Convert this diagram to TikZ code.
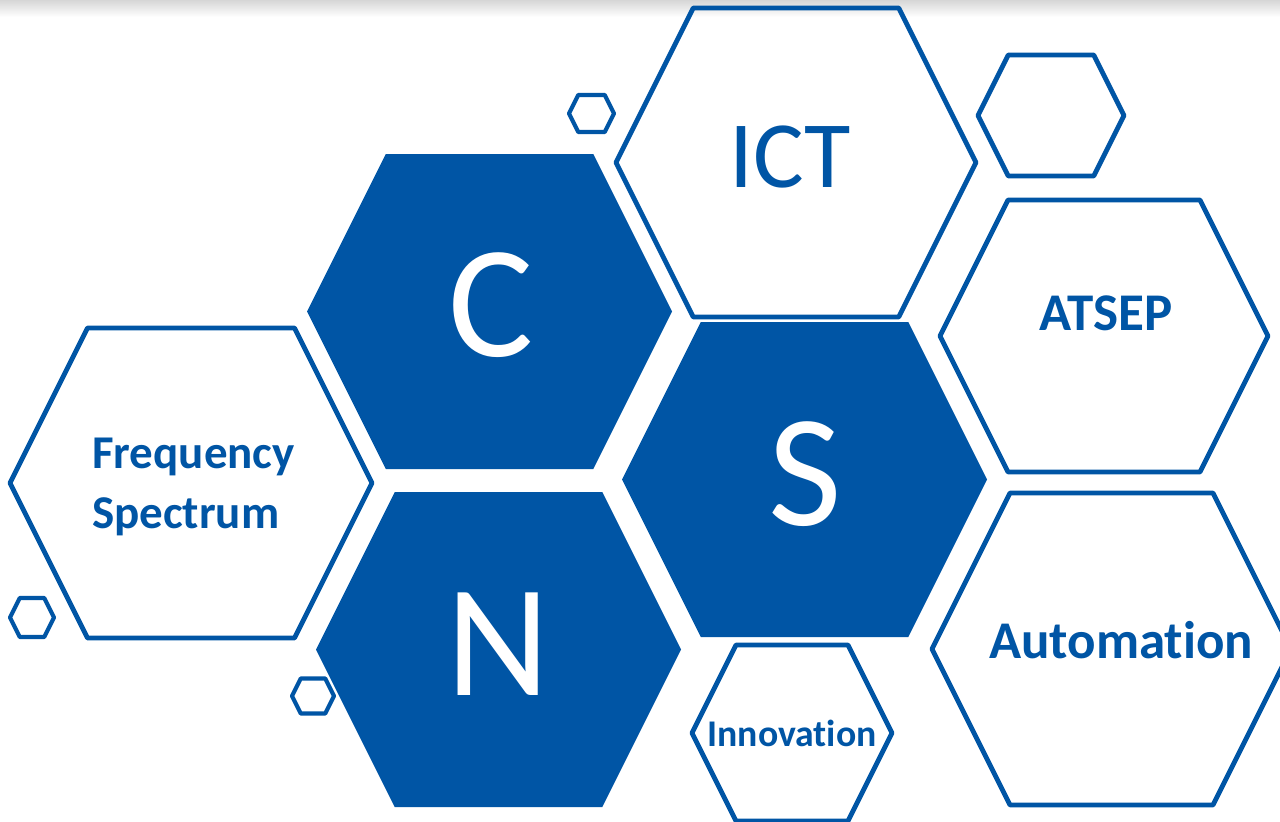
\documentclass[tikz,border=0pt]{standalone}
\usepackage{fontspec}
\setmainfont{Carlito}[RawFeature={-liga;-clig;-calt;-dlig}]
\definecolor{csnblue}{HTML}{0055A5}
\tikzset{
  hexline/.style={draw=csnblue, line width=4.8pt, line join=round},
  hexsmall/.style={draw=csnblue, line width=4.2pt, line join=round},
  hexfill/.style={fill=csnblue, line join=round},
  bigletter/.style={text=white, font=\fontsize{160}{160}\selectfont, inner sep=0pt, anchor=base},
  boldlabel/.style={text=csnblue, font=\bfseries, inner sep=0pt, anchor=base},
}
% hexagon with flat top/bottom: centre (#2,#3), half width #4, half height #5
\newcommand\hexat[5]{%
  \path[#1] (#2-#4,#3) -- (#2-#4+#5/2,#3-#5) -- (#2+#4-#5/2,#3-#5)
    -- (#2+#4,#3) -- (#2+#4-#5/2,#3+#5) -- (#2-#4+#5/2,#3+#5) -- cycle;}
\begin{document}
\begin{tikzpicture}[x=1pt,y=-1pt]
\useasboundingbox (0,0) rectangle (1280,822);
\clip (0,0) rectangle (1280,822);
\fill[white] (0,0) rectangle (1280,822);
% soft grey band along the top edge
\shade[top color=black!16, bottom color=white] (0,0) rectangle (1280,17);

% filled letter hexagons
\hexat{hexfill}{489.5}{311.5}{182.5}{157.5}
\hexat{hexfill}{804.5}{479.5}{182.5}{157.5}
\hexat{hexfill}{498.5}{649.5}{182.5}{157.5}

% outlined topic hexagons
\hexat{hexline}{796}{162.5}{180}{154.5}
\hexat{hexline}{191}{483}{181}{155}
\hexat{hexline}{1104}{336}{164}{136}
\hexat{hexline}{1111.5}{649}{179.5}{156}
\hexat{hexline}{792}{733}{100}{88}
\hexat{hexline}{1051}{115.5}{73}{60.5}

% small decorative hexagons
\hexat{hexsmall}{591.5}{113.5}{22.5}{18.5}
\hexat{hexsmall}{32}{617.5}{22}{19.5}
\hexat{hexsmall}{313}{696}{21}{17.5}

% letters
\node[bigletter] (c) at (491,356) {C};
\node[bigletter] (s) at (805,525) {S};
\node[bigletter] (n) at (498,695) {N};
\node[text=csnblue, font=\fontsize{95}{95}\selectfont, inner sep=0pt, anchor=base] (ict) at (790,187) {ICT};

% topic labels
\node[boldlabel, font=\bfseries\fontsize{47}{47}\selectfont, anchor=base west] (freq) at (92,468) {Frequency};
\node[boldlabel, font=\bfseries\fontsize{47}{47}\selectfont, anchor=base west] (spec) at (92,528) {Spectrum};
\node[boldlabel, font=\bfseries\fontsize{53}{53}\selectfont] (atsep) at (1106,330) {ATSEP};
\node[boldlabel, font=\bfseries\fontsize{53}{53}\selectfont] (auto) at (1121,658) {Automation};
\node[boldlabel, font=\bfseries\fontsize{37.7}{37.7}\selectfont] (innov) at (792,746) {Innovation};
\end{tikzpicture}
\end{document}
